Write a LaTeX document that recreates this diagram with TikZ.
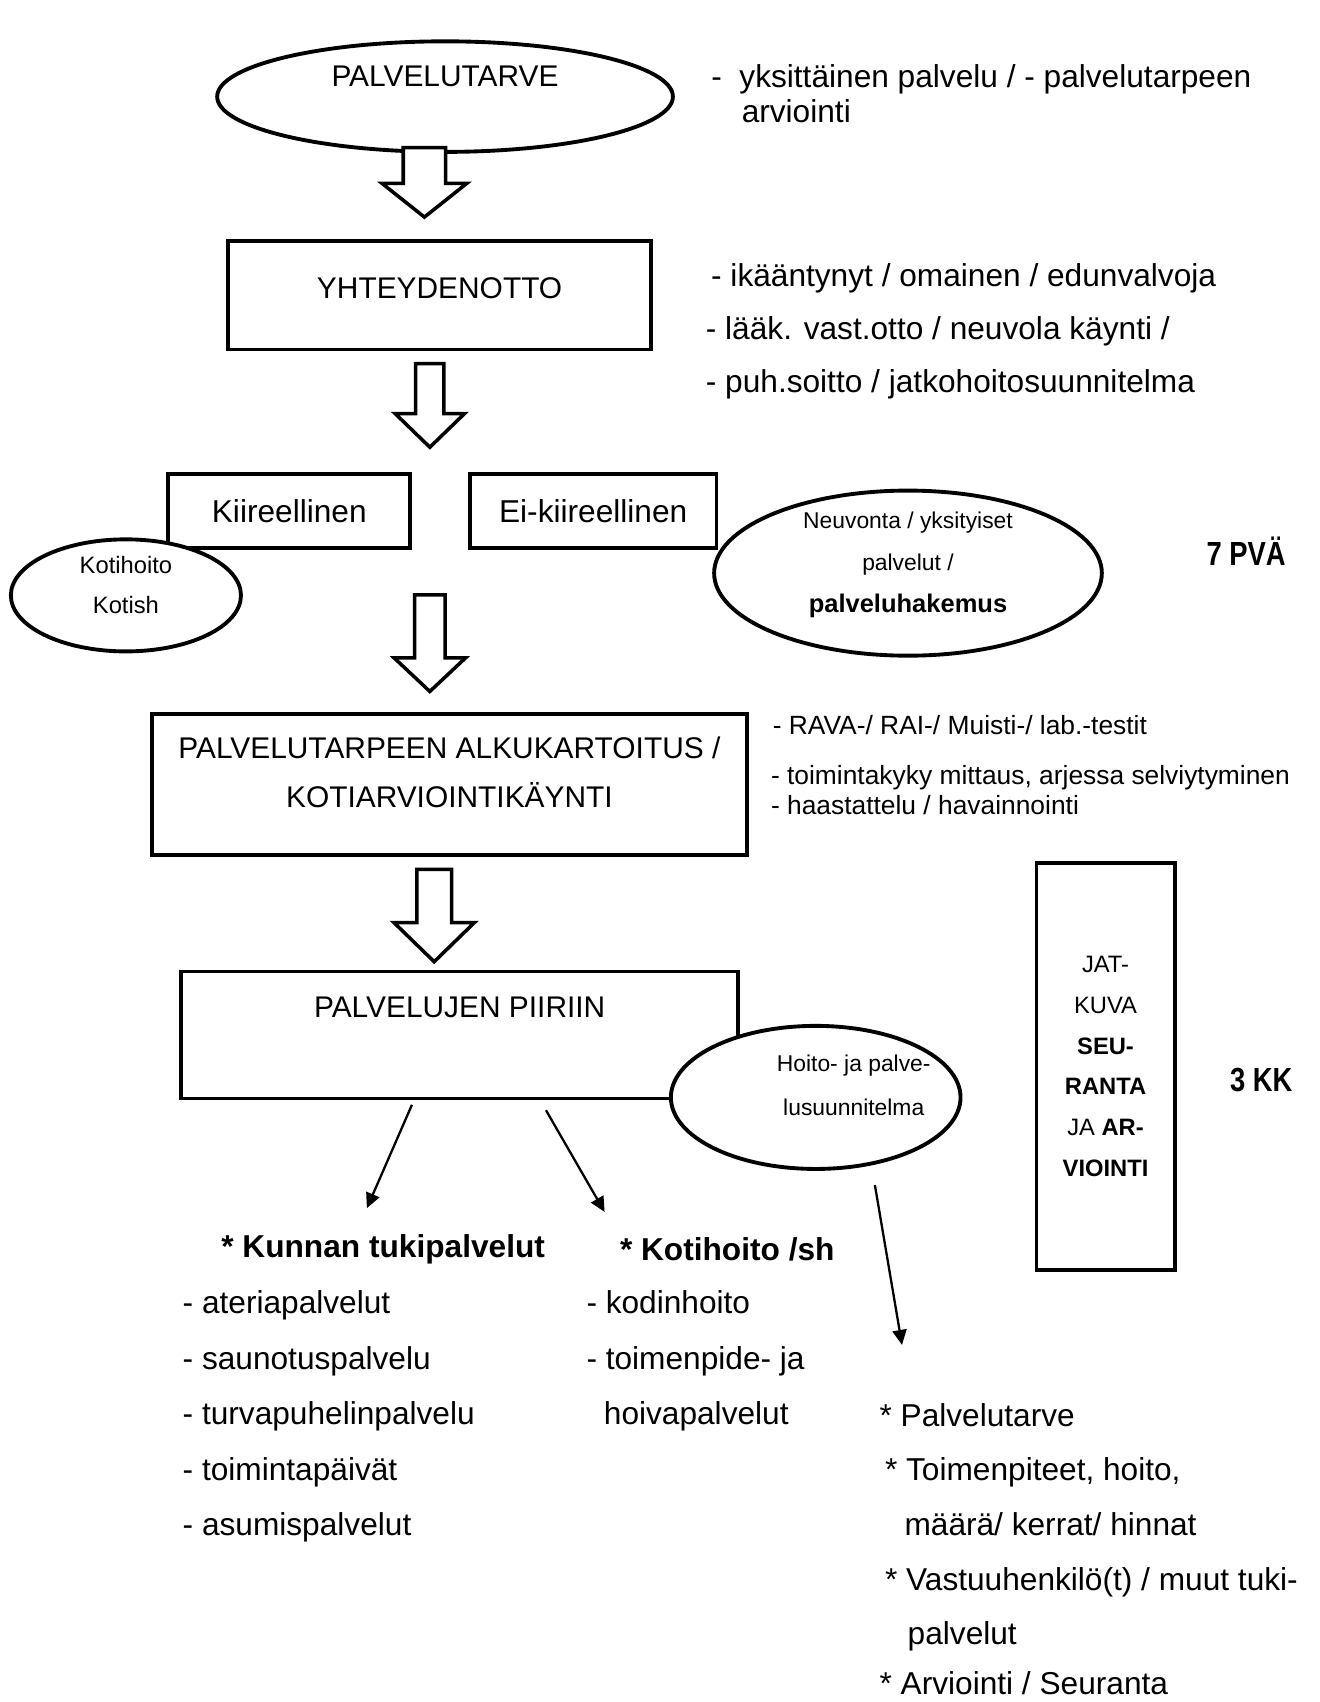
\documentclass[tikz,border=0pt]{standalone}
\usepackage{fontspec}
\setmainfont{Liberation Sans}
\usepackage{graphicx}
\usepackage{tikz}
\usetikzlibrary{shapes, arrows.meta, positioning, calc}

\newcommand{\hollowarrow}[5]{%
  \draw[hollow] ($(#1)+(-#3,0)$) -- ($(#2)+(-#3,-#5)$) -- ($(#2)+(-#4,-#5)$) -- (#2)
    -- ($(#2)+(#4,-#5)$) -- ($(#2)+(#3,-#5)$) -- ($(#1)+(#3,0)$) -- cycle;}

\begin{document}
\begin{tikzpicture}[x=0.0217cm, y=-0.0217cm]
    \tikzstyle{box} = [rectangle, draw, line width=2.2pt, fill=white, inner sep=0pt]
    \tikzstyle{oval} = [ellipse, draw, line width=2.2pt, fill=white, inner sep=0pt]
    \tikzstyle{hollow} = [draw, line width=2pt, fill=white, line join=miter]
    \tikzstyle{pointer} = [-{Triangle[length=8.5pt, width=8pt]}, line width=1.3pt]
    \tikzstyle{note} = [inner sep=0pt, anchor=west, align=left]
    \tikzstyle{period} = [font=\fontsize{19pt}{22pt}\selectfont\bfseries, inner sep=0pt]

    \useasboundingbox (0,0) rectangle (1216,1568);

    % main chain
    \node [oval, minimum width=9.11cm, minimum height=2.21cm,
           label={[font=\fontsize{17pt}{20pt}\selectfont, yshift=0.41cm]center:{PALVELUTARVE}}] (tarve) at (410,89) {};
    \node [box, minimum width=8.46cm, minimum height=2.17cm,
           label={[font=\fontsize{17pt}{20pt}\selectfont, yshift=0.15cm]center:{YHTEYDENOTTO}}] (yhteys) at (405,272) {};
    \node [box, minimum width=4.84cm, minimum height=1.48cm,
           font=\fontsize{18pt}{21pt}\selectfont] (kiire) at (266.5,471) {Kiireellinen};
    \node [box, minimum width=4.93cm, minimum height=1.48cm,
           font=\fontsize{18pt}{21pt}\selectfont] (eikiire) at (546.5,471) {Ei-kiireellinen};
    \node [oval, minimum width=4.60cm, minimum height=2.24cm,
           label={[align=center, font=\fontsize{13.5pt}{22.8pt}\selectfont, yshift=0.2cm]center:{Kotihoito\\Kotish}}] (kotihoito) at (116,548.5) {};
    \node [oval, minimum width=7.75cm, minimum height=3.3cm,
           label={[align=center, font=\fontsize{13pt}{24pt}\selectfont, yshift=0.17cm]center:{Neuvonta / yksityiset\\palvelut /\\\textbf{\fontsize{14.5pt}{24pt}\selectfont palveluhakemus}}}] (neuvonta) at (836.5,528) {};
    \node [period] (pva) at (1148,508) {\scalebox{0.82}[1]{7 PVÄ}};

    \node [box, minimum width=11.89cm, minimum height=2.82cm,
           label={[align=center, font=\fontsize{17pt}{27.8pt}\selectfont, yshift=0.25cm]center:{PALVELUTARPEEN ALKUKARTOITUS /\\KOTIARVIOINTIKÄYNTI}}] (alku) at (414,723) {};
    \node [box, minimum width=11.13cm, minimum height=2.54cm,
           label={[font=\fontsize{17pt}{20pt}\selectfont, yshift=0.55cm]center:{PALVELUJEN PIIRIIN}}] (piiri) at (423.5,953.5) {};
    \node [oval, minimum width=5.79cm, minimum height=2.86cm,
           label={[align=center, font=\fontsize{13pt}{24.7pt}\selectfont, xshift=0.76cm, yshift=0.24cm]center:{Hoito- ja palve-\\lusuunnitelma}}] (suunnitelma) at (751.5,1011) {};
    \node [box, minimum width=2.76cm, minimum height=8.14cm, align=center,
           font=\fontsize{13.5pt}{23.1pt}\selectfont] (seuranta) at (1018.5,982.5)
           {JAT-\\KUVA\\\textbf{SEU-}\\\textbf{RANTA}\\JA \textbf{AR-}\\\textbf{VIOINTI}};
    \node [period] (kk) at (1162,995) {\scalebox{0.82}[1]{3 KK}};

    % side notes
    \node [note, font=\fontsize{18pt}{19.8pt}\selectfont] (tarvenote) at (655,86)
          {-\ \ yksittäinen palvelu / - palvelutarpeen\\\hspace*{17.3pt}arviointi};
    \node [note, font=\fontsize{18pt}{30pt}\selectfont] (yhteysnote) at (650,305)
          {\hspace*{3pt}- ikääntynyt / omainen / edunvalvoja\\- lääk. vast.otto / neuvola käynti /\\- puh.soitto / jatkohoitosuunnitelma};
    \node [note, font=\fontsize{15pt}{17.3pt}\selectfont] (alkunote) at (710,705)
          {\hspace*{1pt}- RAVA-/ RAI-/ Muisti-/ lab.-testit\\[11.1pt]- toimintakyky mittaus, arjessa selviytyminen\\- haastattelu / havainnointi};

    % services
    \node [font=\fontsize{18pt}{21pt}\selectfont\bfseries, inner sep=0pt] (tuki) at (353,1151) {* Kunnan tukipalvelut};
    \node [font=\fontsize{18pt}{21pt}\selectfont\bfseries, inner sep=0pt] (kotish) at (670,1151) {* Kotihoito /sh};
    \node [note, font=\fontsize{18pt}{31.5pt}\selectfont] (tukilista) at (168,1305)
          {- ateriapalvelut\\- saunotuspalvelu\\- turvapuhelinpalvelu\\- toimintapäivät\\- asumispalvelut};
    \node [note, font=\fontsize{18pt}{31.5pt}\selectfont] (kotilista) at (540,1254)
          {- kodinhoito\\- toimenpide- ja\\\hspace*{9.9pt}hoivapalvelut};
    \node [note, font=\fontsize{18pt}{31.1pt}\selectfont] (suunnlista) at (810,1427)
          {* Palvelutarve\\\hspace*{3.1pt}* Toimenpiteet, hoito,\\\hspace*{14.2pt}määrä/ kerrat/ hinnat\\\hspace*{3.1pt}* Vastuuhenkilö(t) / muut tuki-\\\hspace*{16pt}palvelut\\[-3pt]* Arviointi / Seuranta};

    % hollow arrows
    \coordinate (n1) at (391,136); \coordinate (k1) at (391,200);
    \coordinate (n2) at (396,335); \coordinate (k2) at (396,412);
    \coordinate (n3) at (396,548); \coordinate (k3) at (396,637);
    \coordinate (n4) at (400,801); \coordinate (k4) at (400,886);
    \hollowarrow{n1}{k1}{19.5}{39}{31}
    \hollowarrow{n2}{k2}{13}{32}{31}
    \hollowarrow{n3}{k3}{14}{33}{31}
    \hollowarrow{n4}{k4}{16}{37}{36}

    % thin arrows
    \coordinate (p1) at (338,1113);
    \coordinate (p2) at (557,1116.5);
    \coordinate (p3) at (831,1239);
    \draw[pointer] ($(piiri.south)+(-44,4)$) -- (p1);
    \draw[pointer] ($(piiri.south)+(79.5,9)$) -- (p2);
    \draw[pointer] ($(suunnitelma.south)+(54.5,13)$) -- (p3);
\end{tikzpicture}
\end{document}
